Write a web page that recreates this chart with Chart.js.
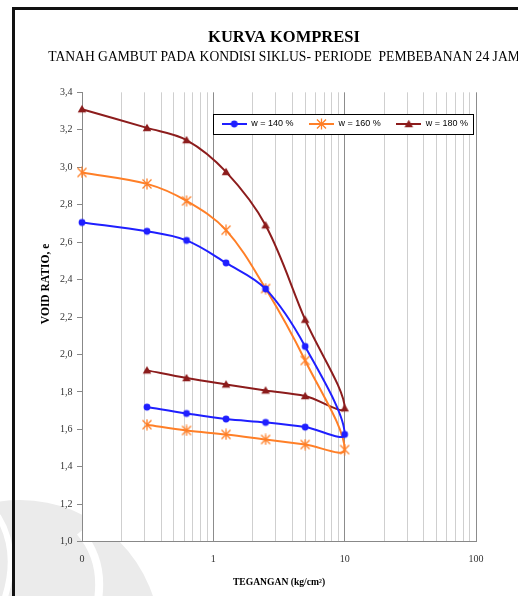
<!DOCTYPE html>
<html>
<head>
<meta charset="utf-8">
<title>Kurva Kompresi</title>
<script src="https://cdn.jsdelivr.net/npm/chart.js@4.4.1/dist/chart.umd.min.js"></script>
<style>
  html, body { margin: 0; padding: 0; background: #fff; width: 518px; height: 596px; overflow: hidden; }
  #mark { position: absolute; left: 0; top: 0; }
  #chart { position: absolute; left: 15px; top: 10px; }
  #frame { position: absolute; left: 12px; top: 7px; width: 540px; height: 620px;
           border-left: 3px solid #111; border-top: 3px solid #111; }
</style>
</head>
<body>
<svg id="mark" width="518" height="596">
  <circle cx="20" cy="640" r="140" fill="#ebebeb"/>
  <path d="M -2 516 Q 20 552 4 600" stroke="#fff" stroke-width="6" fill="none"/>
  <path d="M 80 532 Q 104 560 98 600" stroke="#fff" stroke-width="8" fill="none"/>
</svg>
<canvas id="chart" width="538" height="586"></canvas>
<div id="frame"></div>
<script>
// Load steps (kg/cm²): loading up to 10, then unloading back down
const loadSteps = [0.1, 0.3125, 0.625, 1.25, 2.5, 5, 10];
const unloadSteps = [5, 2.5, 1.25, 0.625, 0.3125];

const seriesNames = ['w = 140 %', 'w = 160 %', 'w = 180 %'];
const seriesColors = ['#1f1fff', '#ff7f27', '#8c1c1c'];
const seriesMarkers = ['circle', 'star', 'triangle'];

// Void ratio e — loading branch
const e140Load = [2.705, 2.658, 2.609, 2.489, 2.350, 2.043, 1.573];
const e160Load = [2.972, 2.911, 2.820, 2.664, 2.352, 1.968, 1.492];
const e180Load = [3.310, 3.210, 3.145, 2.975, 2.690, 2.186, 1.713];
// Void ratio e — unloading branch
const e140Unload = [1.612, 1.637, 1.655, 1.685, 1.719];
const e160Unload = [1.519, 1.546, 1.573, 1.594, 1.625];
const e180Unload = [1.778, 1.808, 1.840, 1.874, 1.915];

const xDecades = [0.1, 1, 10, 100];
const xTickLabels = ['0', '1', '10', '100'];
const yTickLabels = ['1,0', '1,2', '1,4', '1,6', '1,8', '2,0', '2,2', '2,4', '2,6', '2,8', '3,0', '3,2', '3,4'];

// Log-axis grid positions: 1..9 per decade
const xGridValues = [];
for (let d = 0; d < xDecades.length - 1; d++) {
  for (let m = 1; m <= 9; m++) xGridValues.push(xDecades[d] * m);
}
xGridValues.push(xDecades[xDecades.length - 1]);

function toPoints(loadE, unloadE) {
  const steps = loadSteps.concat(unloadSteps);
  const values = loadE.concat(unloadE);
  return steps.map((x, i) => ({ x: x, y: values[i] }));
}

// Small marker bitmaps (optionally with a line through them for the legend)
function markerCanvas(kind, color, withLine) {
  const w = withLine ? 25 : 12, h = 12;
  const c = document.createElement('canvas');
  c.width = w; c.height = h;
  const g = c.getContext('2d');
  const cx = w / 2, cy = h / 2;
  if (withLine) {
    g.strokeStyle = color; g.lineWidth = 2;
    g.beginPath(); g.moveTo(0, cy); g.lineTo(w, cy); g.stroke();
  }
  g.fillStyle = color; g.strokeStyle = color;
  if (kind === 'circle') {
    g.beginPath(); g.arc(cx, cy, 3.4, 0, Math.PI * 2); g.fill();
  } else if (kind === 'triangle') {
    g.beginPath(); g.moveTo(cx, cy - 4.2); g.lineTo(cx + 4.3, cy + 3.3); g.lineTo(cx - 4.3, cy + 3.3);
    g.closePath(); g.fill();
  } else {
    g.lineWidth = 1.3;
    g.beginPath();
    g.moveTo(cx - 4.5, cy - 4.5); g.lineTo(cx + 4.5, cy + 4.5);
    g.moveTo(cx + 4.5, cy - 4.5); g.lineTo(cx - 4.5, cy + 4.5);
    g.moveTo(cx, cy - 5.5); g.lineTo(cx, cy + 5.5);
    g.stroke();
  }
  return c;
}

const pointIcons = seriesMarkers.map((k, i) => markerCanvas(k, seriesColors[i], false));
const legendIcons = seriesMarkers.map((k, i) => markerCanvas(k, seriesColors[i], true));
const seriesData = [toPoints(e140Load, e140Unload), toPoints(e160Load, e160Unload), toPoints(e180Load, e180Unload)];

// Legend frame (canvas coordinates)
const legendFrame = { left: 198, top: 104, right: 458, bottom: 124 };
const legendPad = 15.5;
const legendFont = 9;

function placeLegend(chart) {
  const lg = chart.legend;
  if (!lg) return;
  lg.left = 206.7 - legendPad;
  lg.right = chart.width;
  lg.top = (legendFrame.top + legendFrame.bottom) / 2 - legendPad - legendFont / 2;
  lg.bottom = lg.top + 40;
  lg.width = lg.right - lg.left;
  lg.height = 40;
}

const plotDecor = {
  id: 'plotDecor',
  beforeDraw(chart) {
    const { ctx, chartArea: a } = chart;
    ctx.save();
    ctx.fillStyle = '#fff';
    ctx.fillRect(a.left, a.top, a.right - a.left, a.bottom - a.top);
    ctx.restore();
    placeLegend(chart);
  },
  afterDraw(chart) {
    const ctx = chart.ctx, f = legendFrame;
    ctx.save();
    ctx.fillStyle = '#fff';
    ctx.fillRect(f.left, f.top, f.right - f.left, f.bottom - f.top);
    ctx.strokeStyle = '#000';
    ctx.lineWidth = 1;
    ctx.strokeRect(f.left + 0.5, f.top + 0.5, f.right - f.left, f.bottom - f.top);
    ctx.restore();
    if (chart.legend) chart.legend.draw();
  }
};

Chart.defaults.font.family = "'Liberation Serif', 'Times New Roman', serif";
Chart.defaults.color = '#333';

new Chart(document.getElementById('chart'), {
  type: 'line',
  data: {
    datasets: seriesNames.map((name, i) => ({
      label: name,
      data: seriesData[i],
      borderColor: seriesColors[i],
      backgroundColor: seriesColors[i],
      borderWidth: 2,
      tension: 0.35,
      fill: false,
      clip: false,
      pointStyle: pointIcons[i],
      pointRadius: 4,
      yAxisID: 'y'
    }))
  },
  options: {
    responsive: false,
    animation: false,
    devicePixelRatio: 1,
    layout: { padding: 0 },
    plugins: {
      title: {
        display: true,
        text: 'KURVA KOMPRESI',
        color: '#000',
        font: { size: 16.5, weight: 'bold' },
        padding: { top: 17.6, bottom: 0 }
      },
      subtitle: {
        display: true,
        text: 'TANAH GAMBUT PADA KONDISI SIKLUS- PERIODE  PEMBEBANAN 24 JAM',
        color: '#000',
        font: { size: 13.6 },
        padding: { top: 2.2, bottom: 25.4 }
      },
      legend: {
        display: true,
        position: 'top',
        align: 'start',
        maxHeight: 1,
        labels: {
          usePointStyle: true,
          pointStyleWidth: 25,
          boxHeight: legendFont,
          padding: legendPad,
          color: '#000',
          font: { family: "'Liberation Sans', Arial, sans-serif", size: legendFont },
          generateLabels: chart => chart.data.datasets.map((ds, i) => ({
            text: ds.label,
            pointStyle: legendIcons[i],
            fillStyle: ds.borderColor,
            strokeStyle: ds.borderColor,
            fontColor: '#000',
            lineWidth: 0,
            hidden: false,
            datasetIndex: i
          }))
        }
      },
      tooltip: { enabled: false }
    },
    scales: {
      x: {
        type: 'logarithmic',
        min: xDecades[0],
        max: xDecades[xDecades.length - 1],
        afterBuildTicks: s => { s.ticks = xGridValues.map(v => ({ value: v })); },
        afterFit: s => { s.height = 54.3; },
        ticks: {
          autoSkip: false,
          maxRotation: 0,
          padding: 12,
          color: '#333',
          font: { size: 10 },
          callback: (v, i) => (i % 9 === 0 ? xTickLabels[i / 9] : '')
        },
        grid: {
          drawTicks: false,
          lineWidth: 1,
          color: c => (c.index % 9 === 0 ? '#8c8c8c' : '#cfcfcf')
        },
        border: { color: '#888' },
        title: {
          display: true,
          text: 'TEGANGAN (kg/cm²)',
          color: '#000',
          font: { size: 9.6, weight: 'bold' },
          padding: { top: 4, bottom: 7.3 }
        }
      },
      y: {
        position: 'left',
        min: 1.0,
        max: 3.4,
        afterFit: s => { s.width = 67; },
        ticks: {
          stepSize: 0.2,
          padding: 4.5,
          color: '#333',
          font: { size: 10 },
          callback: (v, i) => yTickLabels[i]
        },
        grid: { drawOnChartArea: false, drawTicks: true, tickLength: 5, color: '#888' },
        border: { color: '#888' },
        title: {
          display: true,
          text: ' '.repeat(23) + 'VOID RATIO, e',
          color: '#000',
          font: { size: 11.5, weight: 'bold' },
          padding: { top: 24.1, bottom: 0 }
        }
      },
      // empty right-hand margin strip beside the plot
      margin: {
        position: 'right',
        afterFit: s => { s.width = 77; },
        ticks: { display: false },
        grid: { display: false, drawTicks: false },
        border: { display: false }
      }
    }
  },
  plugins: [plotDecor]
});
</script>
</body>
</html>
